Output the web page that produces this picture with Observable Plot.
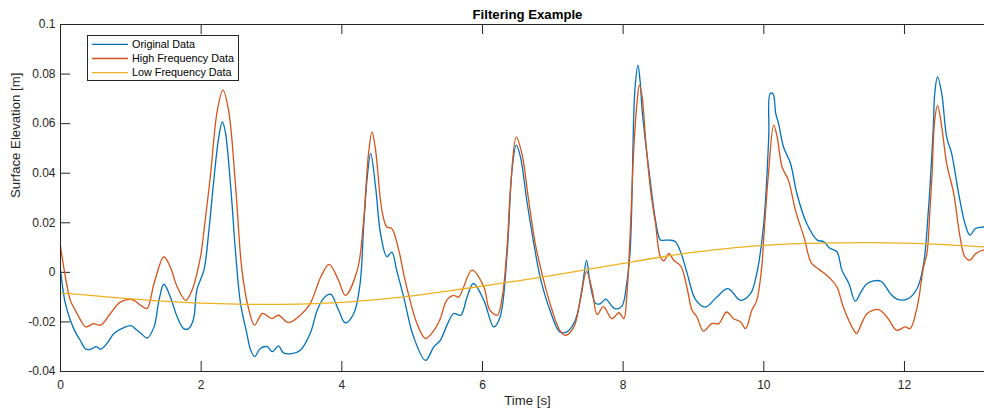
<!DOCTYPE html>
<html>
<head>
<meta charset="utf-8">
<script src="https://cdn.jsdelivr.net/npm/d3@7"></script>
<script src="https://cdn.jsdelivr.net/npm/@observablehq/plot@0.6"></script>
<style>
  html, body { margin: 0; padding: 0; background: #fff; }
  #wrap { position: relative; width: 984px; height: 412px; overflow: hidden; background: #fff; }
  #wrap svg.legend { position: absolute; left: 0; top: 0; }
</style>
</head>
<body>
<div id="wrap"></div>
<script>
// ---------- data ----------
const seriesNames = ["Original Data", "High Frequency Data", "Low Frequency Data"];
const seriesColors = ["#0072BD", "#D95319", "#EDB120"];

const timeOrig = [0.00,0.03,0.07,0.14,0.21,0.28,0.36,0.43,0.51,0.57,0.66,0.76,0.90,1.00,1.09,1.16,1.23,1.33,1.40,1.47,1.56,1.66,1.75,1.82,1.89,1.94,2.04,2.11,2.18,2.25,2.30,2.34,2.42,2.49,2.56,2.65,2.70,2.76,2.84,2.94,3.01,3.10,3.17,3.29,3.41,3.55,3.65,3.74,3.84,3.95,4.05,4.17,4.26,4.31,4.36,4.41,4.48,4.55,4.64,4.71,4.78,4.88,5.02,5.19,5.31,5.40,5.50,5.59,5.69,5.78,5.87,6.02,6.16,6.25,6.35,6.42,6.48,6.54,6.63,6.73,6.82,6.96,7.10,7.20,7.32,7.42,7.48,7.53,7.61,7.68,7.75,7.88,7.98,8.05,8.10,8.15,8.17,8.21,8.24,8.27,8.32,8.39,8.46,8.53,8.60,8.67,8.74,8.82,8.91,9.03,9.17,9.33,9.49,9.67,9.81,9.90,10.00,10.07,10.09,10.13,10.17,10.21,10.28,10.38,10.47,10.61,10.76,10.85,10.94,11.04,11.11,11.21,11.30,11.38,11.47,11.66,11.80,11.89,12.04,12.18,12.27,12.34,12.41,12.43,12.47,12.53,12.60,12.67,12.77,12.86,12.93,13.01,13.12,13.20];
const orig = [0.001,-0.006,-0.0126,-0.0193,-0.024,-0.0274,-0.031,-0.031,-0.030,-0.031,-0.0287,-0.0247,-0.0223,-0.0215,-0.0234,-0.025,-0.0265,-0.022,-0.0113,-0.0048,-0.0098,-0.018,-0.0227,-0.0227,-0.019,-0.0070,0.001,0.017,0.0372,0.0546,0.0607,0.0573,0.0345,0.0077,-0.0126,-0.0247,-0.031,-0.034,-0.0307,-0.030,-0.032,-0.0297,-0.0325,-0.0328,-0.0314,-0.0247,-0.0153,-0.0105,-0.0088,-0.015,-0.0204,-0.0166,-0.0045,0.0183,0.038,0.048,0.0345,0.0157,0.0063,0.0082,0.0008,-0.010,-0.026,-0.0355,-0.030,-0.0274,-0.021,-0.0166,-0.0173,-0.010,-0.0045,-0.0113,-0.022,-0.018,0.0077,0.0412,0.0513,0.0466,0.029,0.0116,-0.0019,-0.0153,-0.024,-0.024,-0.0193,-0.0057,0.0048,-0.0045,-0.0126,-0.0126,-0.0108,-0.0146,-0.0137,-0.0045,0.009,0.0627,0.0748,0.0836,0.0775,0.0654,0.052,0.0358,0.021,0.0131,0.013,0.013,0.0124,0.008,-0.0004,-0.011,-0.014,-0.010,-0.0066,-0.0113,-0.0086,-0.0004,0.020,0.0546,0.0721,0.0721,0.064,0.060,0.0506,0.0439,0.0318,0.0197,0.013,0.0124,0.0097,0.0083,0.0009,-0.0045,-0.0116,-0.008,-0.0045,-0.0035,-0.0086,-0.0108,-0.0108,-0.0065,0.003,0.025,0.0587,0.0721,0.0789,0.0721,0.0546,0.048,0.0318,0.0197,0.015,0.0177,0.0183,0.0183];

const timeHigh = [0.00,0.07,0.14,0.21,0.28,0.36,0.47,0.57,0.71,0.85,1.02,1.14,1.23,1.33,1.47,1.56,1.66,1.78,1.87,1.99,2.04,2.13,2.23,2.31,2.39,2.49,2.58,2.68,2.76,2.87,2.96,3.01,3.10,3.24,3.41,3.55,3.70,3.82,3.95,4.05,4.22,4.31,4.38,4.43,4.48,4.57,4.64,4.71,4.81,4.90,5.07,5.19,5.31,5.40,5.49,5.59,5.66,5.85,6.02,6.10,6.21,6.28,6.35,6.40,6.48,6.56,6.65,6.75,6.87,6.99,7.10,7.18,7.30,7.39,7.48,7.56,7.63,7.72,7.84,7.94,8.01,8.05,8.10,8.15,8.20,8.23,8.27,8.32,8.39,8.46,8.53,8.58,8.65,8.72,8.82,8.91,8.98,9.05,9.14,9.26,9.36,9.47,9.57,9.67,9.74,9.83,9.90,9.97,10.00,10.07,10.14,10.19,10.26,10.35,10.45,10.57,10.68,10.80,10.94,11.04,11.13,11.28,11.32,11.40,11.47,11.63,11.75,11.89,12.01,12.08,12.18,12.27,12.32,12.36,12.39,12.43,12.47,12.53,12.60,12.70,12.79,12.86,12.93,13.01,13.12,13.20];
const high = [0.0105,-0.0019,-0.0113,-0.0153,-0.019,-0.022,-0.0207,-0.0213,-0.0166,-0.012,-0.011,-0.0133,-0.0146,-0.0045,0.0062,0.0022,-0.0059,-0.0113,-0.0072,0.0062,0.0169,0.0385,0.0654,0.0735,0.0654,0.0345,0.0009,-0.0153,-0.0213,-0.0166,-0.018,-0.0187,-0.0173,-0.0203,-0.0173,-0.0126,-0.0019,0.0032,-0.003,-0.0093,0.0009,0.021,0.048,0.0567,0.0493,0.025,0.0183,0.0177,0.0089,-0.0032,-0.0207,-0.0267,-0.0234,-0.0187,-0.0113,-0.0093,-0.010,0.0009,-0.0059,-0.015,-0.0173,-0.010,0.0103,0.0345,0.0546,0.048,0.0304,0.0116,-0.0032,-0.0153,-0.0234,-0.0254,-0.022,-0.0113,0.0003,-0.0072,-0.017,-0.0138,-0.0187,-0.0163,-0.0187,-0.010,0.0157,0.0493,0.0694,0.0755,0.0708,0.0533,0.0332,0.0197,0.0062,0.0046,0.0076,0.0049,0.0025,-0.0065,-0.0153,-0.018,-0.0237,-0.0207,-0.0207,-0.016,-0.0187,-0.020,-0.0227,-0.0153,-0.0113,0.002,0.0143,0.0412,0.0594,0.0546,0.0425,0.0372,0.025,0.0143,0.0036,0.0009,-0.0024,-0.0059,-0.014,-0.0234,-0.0247,-0.020,-0.0166,-0.015,-0.018,-0.0234,-0.022,-0.0227,-0.014,0.002,0.0077,0.024,0.0385,0.0614,0.0674,0.0587,0.0439,0.0318,0.0143,0.0062,0.0049,0.0075,0.009,0.009];

const timeLow = [0,0.5,1,1.5,2,2.5,3,3.5,4,4.5,5,5.5,6,6.5,7,7.5,8,8.5,9,9.5,10,10.5,11,11.5,12,12.5,13,13.2];
const low = [-0.0083,-0.0095,-0.0107,-0.0117,-0.0124,-0.0128,-0.0129,-0.0127,-0.0121,-0.0110,-0.0095,-0.0076,-0.0055,-0.0034,-0.0012,0.0012,0.0036,0.0060,0.0081,0.0097,0.0109,0.0116,0.0119,0.0120,0.0118,0.0113,0.0105,0.0102];

const xTicks = [0, 2, 4, 6, 8, 10, 12];
const yTicks = [-0.04, -0.02, 0, 0.02, 0.04, 0.06, 0.08, 0.1];
const titleText = "Filtering Example";
const xLabel = "Time [s]";
const yLabel = "Surface Elevation [m]";

// ---------- chart ----------
const rows = [];
timeOrig.forEach((t, i) => rows.push({t, v: orig[i], s: seriesNames[0]}));
timeHigh.forEach((t, i) => rows.push({t, v: high[i], s: seriesNames[1]}));
timeLow.forEach((t, i) => rows.push({t, v: low[i], s: seriesNames[2]}));

const axisColor = "#262626";
const fontFamily = "'Liberation Sans', Arial, Helvetica, sans-serif";
const W = 984, H = 412, mL = 60, mR = -10, mT = 24, mB = 41;
const frameW = W - mL - mR, frameH = H - mT - mB;
const tickLen = 10;
const fmtY = d => String(+d.toFixed(2));

const chart = Plot.plot({
  width: W, height: H,
  marginLeft: mL, marginRight: mR, marginTop: mT, marginBottom: mB,
  x: {domain: [0, 13.28]},
  y: {domain: [-0.04, 0.1]},
  color: {domain: seriesNames, range: seriesColors},
  style: {fontFamily, fontSize: "12px", color: axisColor, background: "#fff", overflow: "hidden"},
  marks: [
    Plot.axisX(xTicks, {tickSize: 0, tickPadding: 9, tickFormat: d => String(d), label: null, fontSize: 12}),
    Plot.axisY(yTicks, {tickSize: 0, tickPadding: 5, tickFormat: fmtY, label: null, fontSize: 12}),
    Plot.tickX(xTicks, {x: d => d, insetTop: frameH - tickLen, stroke: axisColor}),
    Plot.tickX(xTicks, {x: d => d, insetBottom: frameH - tickLen, stroke: axisColor}),
    Plot.tickY(yTicks, {y: d => d, insetRight: frameW - tickLen, stroke: axisColor}),
    Plot.tickY(yTicks, {y: d => d, insetLeft: frameW - tickLen, stroke: axisColor}),
    Plot.line(rows, {x: "t", y: "v", z: "s", stroke: "s", strokeWidth: 1.3, curve: "catmull-rom"}),
    Plot.frame({stroke: axisColor, strokeWidth: 1}),
    Plot.text([titleText], {frameAnchor: "top", lineAnchor: "middle", dy: -9.5, fontWeight: "bold", fontSize: 13.2, fill: "#000"}),
    Plot.text([xLabel], {frameAnchor: "bottom", lineAnchor: "middle", dy: 29.5, fontSize: 13.2, fill: axisColor}),
    Plot.text([yLabel], {frameAnchor: "left", lineAnchor: "middle", dx: -44.7, rotate: -90, fontSize: 13.2, fill: axisColor})
  ]
});
const wrap = document.getElementById("wrap");
wrap.appendChild(chart);

// ---------- legend (overlay) ----------
const lg = d3.select(wrap).append("svg").attr("class", "legend")
  .attr("width", W).attr("height", H)
  .style("font-family", fontFamily).style("font-size", "10.8px");
lg.append("rect").attr("x", 87.5).attr("y", 35.5).attr("width", 151).attr("height", 45)
  .attr("fill", "#fff").attr("stroke", axisColor).attr("stroke-width", 1);
seriesNames.forEach((name, i) => {
  const cy = 44.4 + i * 14.1;
  lg.append("line").attr("x1", 92).attr("x2", 128).attr("y1", cy).attr("y2", cy)
    .attr("stroke", seriesColors[i]).attr("stroke-width", 1.3);
  lg.append("text").attr("x", 132).attr("y", cy + 3.8).attr("fill", "#000").text(name);
});
</script>
</body>
</html>
